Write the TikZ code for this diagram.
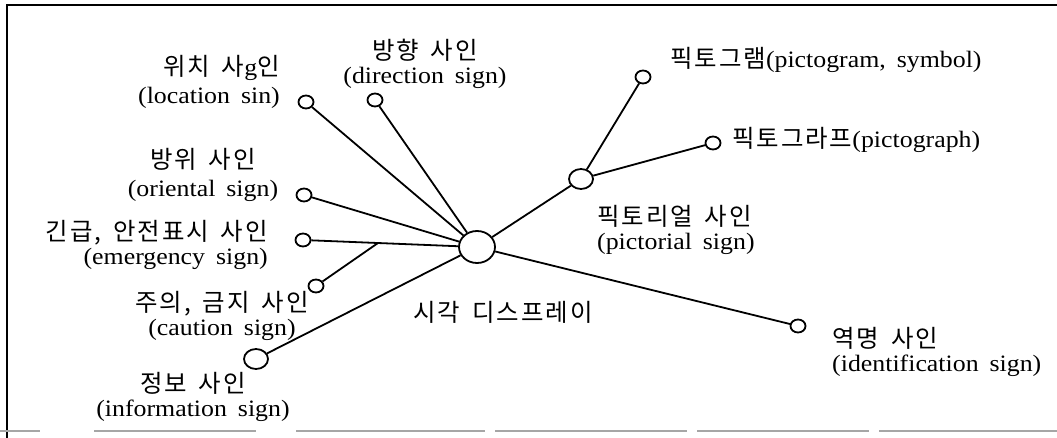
\documentclass[tikz,border=0pt]{standalone}
\usepackage{fontspec}
\setmainfont{Liberation Serif}[WordSpace=1.7, FakeStretch=1.1]
\newfontfamily\kr{Noto Sans CJK KR}[Scale=1.04, LetterSpace=8, WordSpace=1.6]
\usetikzlibrary{shapes.geometric}
\tikzset{
  ring/.style={draw, ellipse, line width=1.8pt, inner sep=0pt, fill=white},
  hubring/.style={ring, minimum width=36pt, minimum height=32pt},
  bigring/.style={ring, minimum width=24pt, minimum height=20pt},
  leafring/.style={ring, minimum width=15pt, minimum height=13pt},
  lbl/.style={font=\fontsize{23.5}{24}\selectfont, inner sep=0pt},
  link/.style={line width=1.8pt},
}
\begin{document}
\begin{tikzpicture}[x=1pt,y=-1pt]
\useasboundingbox (0,0) rectangle (1057,438);
% frame
\draw[line width=2.2pt] (1057,5) -- (7,5) -- (7,438);
\foreach \a/\b in {0/40,94/256,296/485,495/687,697/869,879/1057}
  \draw[gray!70, line width=1.4pt] (\a,431) -- (\b,431);

% circles
\node[hubring]  (hub)    at (477,247) {};
\node[bigring]  (pict)   at (581,179) {};
\node[bigring]  (info)   at (256,359) {};
\node[leafring] (pgram)  at (643,77)  {};
\node[leafring] (pgraph) at (713,143) {};
\node[leafring] (loc)    at (306,102) {};
\node[leafring] (dir)    at (375,100) {};
\node[leafring] (ori)    at (304,195) {};
\node[leafring] (emer)   at (303,240) {};
\node[leafring] (caut)   at (316,286) {};
\node[leafring] (ident)  at (798,326) {};
\coordinate (j) at (378,243);

% connectors
\draw[link] (loc) -- (hub);
\draw[link] (dir) -- (hub);
\draw[link] (ori) -- (hub);
\draw[link] (emer) -- (hub);
\draw[link] (caut) -- (j);
\draw[link] (info) -- (hub);
\draw[link] (hub) -- (pict);
\draw[link] (pict) -- (pgram);
\draw[link] (pict) -- (pgraph);
\draw[link] (hub) -- (ident);

% labels
\node[lbl, align=right, anchor=east] (tloc) at (280,82) {{\kr 위치 사}g{\kr 인}\\[4pt](location sin)};
\node[lbl, align=center] (tdir) at (425,64) {{\kr 방향 사인}\\(direction sign)};
\node[lbl, align=center] (tori) at (203,175) {{\kr 방위 사인}\\[4pt](oriental sign)};
\node[lbl, align=right, anchor=east] (temer) at (268,245) {{\kr 긴급, 안전표시 사인}\\(emergency sign)};
\node[lbl, align=center] (tcaut) at (222,316) {{\kr 주의, 금지 사인}\\(caution sign)};
\node[lbl, align=center] (tinfo) at (193,397) {{\kr 정보 사인}\\(information sign)};
\node[lbl] (thub) at (503,312) {\kr 시각 디스프레이};
\node[lbl, align=left, anchor=west] (tpict) at (597,230) {{\kr 픽토리얼 사인}\\(pictorial sign)};
\node[lbl, align=left, anchor=west] (tident) at (832,352) {{\kr 역명 사인}\\(identification sign)};
\node[lbl, anchor=west] (tpgram) at (670,60) {{\kr 픽토그램}(pictogram, symbol)};
\node[lbl, anchor=west] (tpgraph) at (732,140) {{\kr 픽토그라프}(pictograph)};
\end{tikzpicture}
\end{document}
